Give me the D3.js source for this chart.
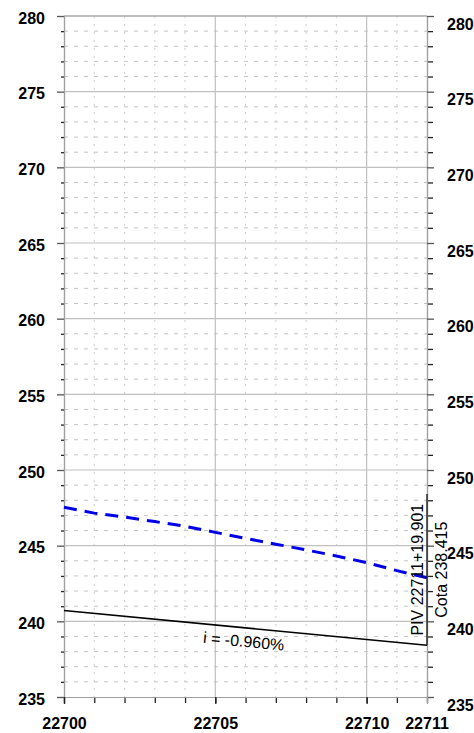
<!DOCTYPE html>
<html>
<head>
<meta charset="utf-8">
<script src="https://cdn.jsdelivr.net/npm/d3@7"></script>
<style>
  body { margin: 0; background: #fff; }
  svg { display: block; font-family: "Liberation Sans", Arial, sans-serif; }
</style>
</head>
<body>
<div id="chart"></div>
<script>
// station / elevation data read from the profile
const xDomain = [22700, 22711.995];
const yDomain = [235, 280];
const xTickLabels = [22700, 22705, 22710];
const xEndLabel = "22711";
const yTickLabels = [235, 240, 245, 250, 255, 260, 265, 270, 275, 280];

// terrain (blue dashed)
const terrainStations = [22700, 22701, 22702, 22703, 22704, 22705, 22706, 22707, 22708, 22709, 22710, 22711, 22711.995];
const terrainElev = [247.54, 247.15, 246.89, 246.59, 246.28, 245.88, 245.48, 245.10, 244.72, 244.32, 243.88, 243.35, 242.88];

// grade line (black)
const gradeStations = [22700, 22711.995];
const gradeElev = [240.718, 238.415];
const gradeLabel = "i = -0.960%";

// PIV
const pivStation = 22711.995;
const pivElev = [238.415, 248.415];
const pivLabel = "PIV 22711+19.901";
const cotaLabel = "Cota 238.415";

const width = 474, height = 733;
const margin = { top: 16, right: 47, bottom: 36, left: 64 };

const svg = d3.select("#chart").append("svg")
  .attr("width", width)
  .attr("height", height);

const x = d3.scaleLinear().domain(xDomain).range([margin.left, width - margin.right]);
const y = d3.scaleLinear().domain(yDomain).range([height - margin.bottom, margin.top]);

const x0 = x.range()[0], x1 = x.range()[1];
const y0 = y.range()[0], y1 = y.range()[1];

const minorY = d3.range(236, 280).filter(v => v % 5 !== 0);
const majorY = d3.range(240, 281, 5);
const minorX = d3.range(22701, 22712).filter(v => v % 5 !== 0);
const majorX = [22705, 22710];

// grid
const grid = svg.append("g");
grid.selectAll(".hmin").data(minorY).join("line")
  .attr("x1", x0).attr("x2", x1)
  .attr("y1", d => y(d)).attr("y2", d => y(d))
  .attr("stroke", "#c4c4c4").attr("stroke-width", 1)
  .attr("stroke-dasharray", "4,6");
grid.selectAll(".vmin").data(minorX).join("line")
  .attr("x1", d => x(d)).attr("x2", d => x(d))
  .attr("y1", y1).attr("y2", y0)
  .attr("stroke", "#cccccc").attr("stroke-width", 1)
  .attr("stroke-dasharray", "2,6");
grid.selectAll(".hmaj").data(majorY).join("line")
  .attr("x1", x0).attr("x2", x1)
  .attr("y1", d => y(d)).attr("y2", d => y(d))
  .attr("stroke", "#c0c0c0").attr("stroke-width", 1.2);
grid.selectAll(".vmaj").data(majorX).join("line")
  .attr("x1", d => x(d)).attr("x2", d => x(d))
  .attr("y1", y1).attr("y2", y0)
  .attr("stroke", "#c0c0c0").attr("stroke-width", 1.2);

// axes
function styleAxis(g, color) {
  g.select(".domain").attr("stroke", "#a0a0a0").attr("stroke-width", 1.2);
  g.selectAll(".tick line").attr("stroke", color).attr("stroke-width", 1.3);
  g.selectAll(".tick text")
    .attr("fill", "#000")
    .style("font-size", "16px")
    .style("font-weight", "bold");
}

// left
svg.append("g").attr("transform", `translate(${x0},0)`)
  .call(d3.axisLeft(y).tickValues(minorY).tickSize(3).tickFormat(""))
  .call(g => styleAxis(g, "#222"));
svg.append("g").attr("transform", `translate(${x0},0)`)
  .call(d3.axisLeft(y).tickValues(yTickLabels).tickSize(7).tickPadding(12).tickFormat(d3.format("d")))
  .call(g => styleAxis(g, "#555"))
  .call(g => g.selectAll(".tick text").attr("dy", "0.45em"));

// right
svg.append("g").attr("transform", `translate(${x1},0)`)
  .call(d3.axisRight(y).tickValues(minorY).tickSize(6).tickFormat(""))
  .call(g => styleAxis(g, "#222"));
svg.append("g").attr("transform", `translate(${x1},0)`)
  .call(d3.axisRight(y).tickValues(yTickLabels).tickSize(7).tickPadding(13).tickFormat(d3.format("d")))
  .call(g => styleAxis(g, "#555"))
  .call(g => g.selectAll(".tick text").attr("dy", "0.82em"));

// top border
svg.append("line")
  .attr("x1", x0).attr("x2", x1).attr("y1", y1).attr("y2", y1)
  .attr("stroke", "#a0a0a0").attr("stroke-width", 1.2);

// bottom
svg.append("g").attr("transform", `translate(0,${y0})`)
  .call(d3.axisBottom(x).tickValues(d3.range(22700, 22712).concat([xDomain[1]])).tickSize(6).tickFormat(""))
  .call(g => styleAxis(g, "#222"));
const bottomLabels = svg.append("g").attr("transform", `translate(0,${y0})`)
  .call(d3.axisBottom(x).tickValues(xTickLabels).tickSize(7).tickFormat(d3.format("d")))
  .call(g => styleAxis(g, "#222"))
  .call(g => g.selectAll(".tick text").attr("y", 32).attr("dy", 0));
bottomLabels.append("text")
  .attr("x", x(xDomain[1])).attr("y", 32)
  .attr("text-anchor", "middle")
  .attr("fill", "#000")
  .style("font-size", "16px").style("font-weight", "bold")
  .text(xEndLabel);

// lines
const line = d3.line().x(d => x(d[0])).y(d => y(d[1]));

svg.append("path")
  .datum(d3.zip(terrainStations, terrainElev))
  .attr("d", line)
  .attr("fill", "none")
  .attr("stroke", "#0000e6")
  .attr("stroke-width", 3)
  .attr("stroke-dasharray", "13,8");

svg.append("path")
  .datum(d3.zip(gradeStations, gradeElev))
  .attr("d", line)
  .attr("fill", "none")
  .attr("stroke", "#000")
  .attr("stroke-width", 1.6);

// PIV marker
svg.append("line")
  .attr("x1", x(pivStation)).attr("x2", x(pivStation))
  .attr("y1", y(pivElev[0])).attr("y2", y(pivElev[1]))
  .attr("stroke", "#222").attr("stroke-width", 1.4);

const pivMidY = (y(pivElev[0]) + y(pivElev[1])) / 2;
svg.append("text")
  .attr("transform", `translate(${x(pivStation) - 4},${pivMidY}) rotate(-90)`)
  .attr("text-anchor", "middle")
  .style("font-size", "16px")
  .text(pivLabel);
svg.append("text")
  .attr("transform", `translate(${x(pivStation) + 20},${pivMidY}) rotate(-90)`)
  .attr("text-anchor", "middle")
  .style("font-size", "16px")
  .text(cotaLabel);

// slope label
const angle = Math.atan2(y(gradeElev[1]) - y(gradeElev[0]), x(gradeStations[1]) - x(gradeStations[0])) * 180 / Math.PI;
const lx = 245;
const ly = y(gradeElev[0] + (gradeElev[1] - gradeElev[0]) * (x.invert(lx) - gradeStations[0]) / (gradeStations[1] - gradeStations[0]));
svg.append("text")
  .attr("transform", `translate(${lx},${ly}) rotate(${angle})`)
  .attr("y", 19)
  .attr("text-anchor", "middle")
  .style("font-size", "16px")
  .text(gradeLabel);
</script>
</body>
</html>
